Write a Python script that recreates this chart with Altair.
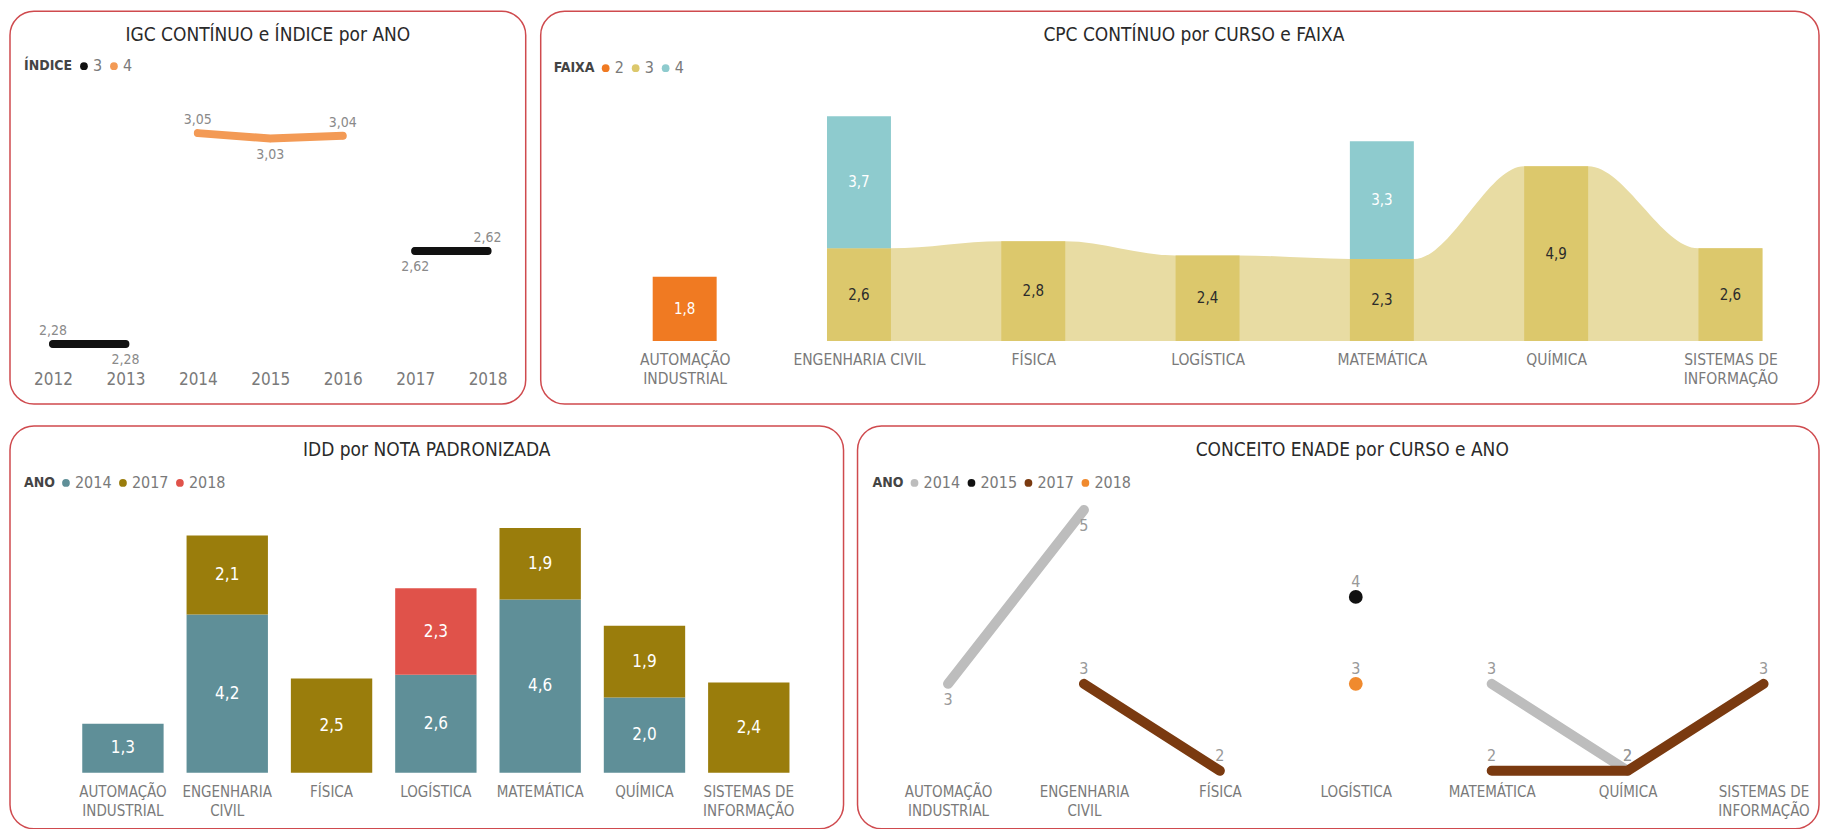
import json
import altair as alt
import pandas as pd

FONT = "Liberation Sans Narrow, DejaVu Sans Condensed, Roboto, sans-serif"

# ---------------- data ----------------
courses = ["AUTOMAÇÃO INDUSTRIAL", "ENGENHARIA CIVIL", "FÍSICA", "LOGÍSTICA",
           "MATEMÁTICA", "QUÍMICA", "SISTEMAS DE INFORMAÇÃO"]

# Panel 1: IGC contínuo e índice por ano
igc_years = ["2012", "2013", "2014", "2015", "2016", "2017", "2018"]
igc_year = ["2012", "2013", "2017", "2018", "2014", "2015", "2016"]
igc_indice = ["3", "3", "3", "3", "4", "4", "4"]
igc_value = [2.28, 2.28, 2.62, 2.62, 3.05, 3.03, 3.04]

# Panel 2: CPC contínuo por curso e faixa
cpc_course = ["AUTOMAÇÃO INDUSTRIAL", "ENGENHARIA CIVIL", "ENGENHARIA CIVIL", "FÍSICA",
              "LOGÍSTICA", "MATEMÁTICA", "MATEMÁTICA", "QUÍMICA", "SISTEMAS DE INFORMAÇÃO"]
cpc_faixa = ["2", "3", "4", "3", "3", "3", "4", "3", "3"]
cpc_value = [1.8, 2.6, 3.7, 2.8, 2.4, 2.3, 3.3, 4.9, 2.6]

# Panel 3: IDD por nota padronizada
idd_course = ["AUTOMAÇÃO INDUSTRIAL", "ENGENHARIA CIVIL", "ENGENHARIA CIVIL", "FÍSICA",
              "LOGÍSTICA", "LOGÍSTICA", "MATEMÁTICA", "MATEMÁTICA", "QUÍMICA", "QUÍMICA",
              "SISTEMAS DE INFORMAÇÃO"]
idd_ano = ["2014", "2014", "2017", "2017", "2014", "2018", "2014", "2017", "2014", "2017", "2017"]
idd_value = [1.3, 4.2, 2.1, 2.5, 2.6, 2.3, 4.6, 1.9, 2.0, 1.9, 2.4]

# Panel 4: conceito ENADE por curso e ano
enade_course = ["AUTOMAÇÃO INDUSTRIAL", "ENGENHARIA CIVIL", "MATEMÁTICA", "QUÍMICA",
                "LOGÍSTICA",
                "ENGENHARIA CIVIL", "FÍSICA", "MATEMÁTICA", "QUÍMICA", "SISTEMAS DE INFORMAÇÃO",
                "LOGÍSTICA"]
enade_ano = ["2014", "2014", "2014", "2014", "2015", "2017", "2017", "2017", "2017", "2017", "2018"]
enade_value = [3, 5, 3, 2, 4, 3, 2, 2, 2, 3, 3]


def fmt(v, d):
    return f"{v:.{d}f}".replace(".", ",")


def segments(df, key_col, pos_col):
    """Split each series into runs of consecutive positions (gaps break the line)."""
    df = df.sort_values([key_col, pos_col]).copy()
    seg, n = [], 0
    prev_k, prev_p = None, None
    for k, p in zip(df[key_col], df[pos_col]):
        if k != prev_k or p - prev_p > 1:
            n += 1
        seg.append(f"{k}-{n}")
        prev_k, prev_p = k, p
    df["seg"] = seg
    df["segsize"] = df.groupby("seg")["seg"].transform("size")
    return df


def stack(df, course_col, order_col, val_col):
    df = df.sort_values([course_col, order_col]).copy()
    df["y1"] = df.groupby(course_col)[val_col].cumsum()
    df["y0"] = df["y1"] - df[val_col]
    df["mid"] = (df["y0"] + df["y1"]) / 2
    return df


# ---------------- styles ----------------
BORDER = "#cf4a4e"
TITLE_COLOR = "#2a2a2a"
LABEL_GRAY = "#7a7a7a"


def panel_title(text, dx=0):
    return alt.TitleParams(text, offset=-34, fontSize=19, font=FONT, color=TITLE_COLOR,
                           fontWeight="normal", anchor="middle", dx=dx)


def legend(title, x, y):
    return alt.Legend(title=title, orient="none", legendX=x, legendY=y, direction="horizontal",
                      titleOrient="left", titleFontSize=14, titleColor="#444",
                      titleFontWeight="bold", titleFont=FONT, titlePadding=3,
                      labelFontSize=16, labelColor=LABEL_GRAY, labelFont=FONT,
                      symbolType="circle", symbolSize=60, symbolStrokeWidth=0,
                      labelOffset=1, columnPadding=3, padding=0)


def cat_axis(offset):
    return alt.Axis(title=None, domain=False, ticks=False, grid=False, labelAngle=0,
                    labelFontSize=15, labelColor=LABEL_GRAY, labelFont=FONT,
                    labelPadding=0, offset=offset, labelLineHeight=19,
                    labelOverlap=False, labelFlush=False,
                    labelExpr="datum.label == 'SISTEMAS DE INFORMAÇÃO' ? ['SISTEMAS DE', 'INFORMAÇÃO'] : split(datum.label, ' ')")


def series_lines(base, key_col, dom, rng, width, extra_filter=None):
    layers = []
    for k, c in zip(dom, rng):
        cond = f"datum.{key_col} == '{k}'"
        if extra_filter:
            cond = f"({cond}) && ({extra_filter})"
        layers.append(base.transform_filter(cond).mark_line(
            strokeWidth=width, strokeCap="round", strokeJoin="round", color=c
        ).encode(detail="seg:N"))
    return layers


# ---------------- panel 1 ----------------
p1 = pd.DataFrame({"ano": igc_year, "indice": igc_indice, "igc": igc_value})
p1["yr"] = p1["ano"].astype(int)
p1 = segments(p1, "indice", "yr")
p1["label"] = [fmt(v, 2) for v in p1["igc"]]

ind_dom = ["3", "4"]
ind_rng = ["#111111", "#f39a55"]
x1 = alt.X("ano:N", sort=igc_years,
           scale=alt.Scale(type="point", domain=igc_years, padding=0.56, align=0.53),
           axis=alt.Axis(title=None, domain=False, ticks=False, grid=False, labelAngle=0,
                         labelFontSize=17, labelColor=LABEL_GRAY, labelFont=FONT,
                         labelPadding=0, offset=-33))
y1 = alt.Y("igc:Q", scale=alt.Scale(domain=[2.061, 3.495], zero=False, nice=False), axis=None)
base1 = alt.Chart(p1).encode(x=x1, y=y1)
lines1 = series_lines(base1, "indice", ind_dom, ind_rng, 8)
pts1 = base1.mark_circle(size=50, opacity=1).encode(
    color=alt.Color("indice:N", scale=alt.Scale(domain=ind_dom, range=ind_rng),
                    legend=legend("ÍNDICE", 14, 47)))
lab1_up = base1.transform_filter("toNumber(datum.ano) % 2 == 0").mark_text(
    dy=-13, fontSize=14, color="#8a8a8a", font=FONT).encode(text="label:N")
lab1_dn = base1.transform_filter("toNumber(datum.ano) % 2 == 1").mark_text(
    dy=16, fontSize=14, color="#8a8a8a", font=FONT).encode(text="label:N")
chart1 = alt.layer(pts1, *lines1, lab1_up, lab1_dn).properties(
    width=516, height=393, title=panel_title("IGC CONTÍNUO e ÍNDICE por ANO"))

# ---------------- panel 2 ----------------
HW = 0.1835  # half bar width in category units
p2 = pd.DataFrame({"curso": cpc_course, "faixa": cpc_faixa, "cpc": cpc_value})
p2["idx"] = p2["curso"].map({c: i for i, c in enumerate(courses)})
p2 = stack(p2, "curso", "faixa", "cpc")
p2["label"] = [fmt(v, 1) for v in p2["cpc"]]

rib = p2[p2["faixa"] == "3"].sort_values("idx")
rib_rows = []
for _, r in rib.iterrows():
    rib_rows.append({"px": r["idx"] - HW, "cpc": r["cpc"]})
    rib_rows.append({"px": r["idx"] + HW, "cpc": r["cpc"]})
rib_df = pd.DataFrame(rib_rows)

cpc_lines = [["AUTOMAÇÃO", "INDUSTRIAL"], ["ENGENHARIA CIVIL"], ["FÍSICA"], ["LOGÍSTICA"],
             ["MATEMÁTICA"], ["QUÍMICA"], ["SISTEMAS DE", "INFORMAÇÃO"]]
xs2 = alt.Scale(domain=[-0.826, 6.508], nice=False, zero=False)
x2_axis = alt.Axis(title=None, domain=False, ticks=False, grid=False, labelAngle=0,
                   values=list(range(7)), labelFontSize=15.5, labelColor=LABEL_GRAY,
                   labelFont=FONT, labelPadding=0, offset=-52, labelLineHeight=19,
                   labelOverlap=False, labelFlush=False,
                   labelExpr=json.dumps(cpc_lines, ensure_ascii=False) + "[datum.value]")
ys2 = alt.Scale(domain=[-1.765, 9.244], nice=False, zero=False)

faixa_dom = ["2", "3", "4"]
faixa_rng = ["#f07a22", "#dcc86c", "#8ecbce"]

ribbon = alt.Chart(rib_df).mark_area(interpolate="monotone", color="#e8dca3").encode(
    x=alt.X("px:Q", scale=xs2, axis=x2_axis),
    y=alt.Y("cpc:Q", scale=ys2, axis=None),
    y2=alt.datum(0))
bars2 = alt.Chart(p2).transform_calculate(
    xa=f"datum.idx - {HW}", xb=f"datum.idx + {HW}").mark_rect().encode(
    x=alt.X("xa:Q", scale=xs2, axis=x2_axis), x2="xb:Q",
    y=alt.Y("y0:Q", scale=ys2, axis=None), y2="y1:Q",
    color=alt.Color("faixa:N", scale=alt.Scale(domain=faixa_dom, range=faixa_rng),
                    legend=legend("FAIXA", 13, 49)))
text2 = alt.Chart(p2).mark_text(fontSize=15, font=FONT).encode(
    x=alt.X("idx:Q", scale=xs2, axis=x2_axis),
    y=alt.Y("mid:Q", scale=ys2, axis=None),
    text="label:N",
    color=alt.condition("datum.faixa == '3'", alt.value("#2b2b2b"), alt.value("#ffffff")))
chart2 = alt.layer(ribbon, bars2, text2).properties(
    width=1279, height=393, title=panel_title("CPC CONTÍNUO por CURSO e FAIXA", dx=14))

# ---------------- panel 3 ----------------
p3 = pd.DataFrame({"curso": idd_course, "ano_idd": idd_ano, "idd": idd_value})
p3 = stack(p3, "curso", "ano_idd", "idd")
p3["label"] = [fmt(v, 1) for v in p3["idd"]]
ano3_dom = ["2014", "2017", "2018"]
ano3_rng = ["#5f8f98", "#9a7d0c", "#e0524a"]
x3 = alt.X("curso:N", sort=courses,
           scale=alt.Scale(domain=courses, paddingInner=0.22, paddingOuter=0.6055, align=0.572),
           axis=cat_axis(-44))
ys3 = alt.Scale(domain=[-1.485, 9.204], nice=False, zero=False)
bars3 = alt.Chart(p3).mark_bar().encode(
    x=x3, y=alt.Y("y0:Q", scale=ys3, axis=None), y2="y1:Q",
    color=alt.Color("ano_idd:N", scale=alt.Scale(domain=ano3_dom, range=ano3_rng),
                    legend=legend("ANO", 14, 49)))
text3 = alt.Chart(p3).mark_text(fontSize=17, font=FONT, color="white").encode(
    x=x3, y=alt.Y("mid:Q", scale=ys3, axis=None), text="label:N")
chart3 = alt.layer(bars3, text3).properties(
    width=834, height=403, title=panel_title("IDD por NOTA PADRONIZADA"))

# ---------------- panel 4 ----------------
p4 = pd.DataFrame({"curso": enade_course, "ano_en": enade_ano, "conceito": enade_value})
p4["idx"] = p4["curso"].map({c: i for i, c in enumerate(courses)})
p4 = segments(p4, "ano_en", "idx")
ano4_dom = ["2014", "2015", "2017", "2018"]
ano4_rng = ["#bdbdbd", "#111111", "#7a3a10", "#f08a2e"]
x4 = alt.X("curso:N", sort=courses,
           scale=alt.Scale(type="point", domain=courses, padding=0.537, align=0.62),
           axis=cat_axis(-44))
y4 = alt.Y("conceito:Q", scale=alt.Scale(domain=[1.333, 5.966], nice=False, zero=False),
           axis=None)
base4 = alt.Chart(p4).encode(x=x4, y=y4)
lines4 = series_lines(base4, "ano_en", ano4_dom, ano4_rng, 10, "datum.segsize > 1")
pts4 = base4.transform_filter("datum.segsize == 1").mark_circle(size=190, opacity=1).encode(
    color=alt.Color("ano_en:N", scale=alt.Scale(domain=ano4_dom, range=ano4_rng),
                    legend=legend("ANO", 15, 49)))
below = "datum.ano_en == '2014' && (datum.curso == 'AUTOMAÇÃO INDUSTRIAL' || datum.curso == 'ENGENHARIA CIVIL')"
lab4_up = base4.transform_filter(f"!({below})").mark_text(
    dy=-15, fontSize=16, color="#999999", font=FONT).encode(text="conceito:Q")
lab4_dn = base4.transform_filter(below).mark_text(
    dy=16, fontSize=16, color="#999999", font=FONT).encode(text="conceito:Q")
chart4 = alt.layer(pts4, *lines4, lab4_up, lab4_dn).properties(
    width=962, height=403, title=panel_title("CONCEITO ENADE por CURSO e ANO", dx=14))

# ---------------- layout ----------------
top = alt.hconcat(chart1, chart2, spacing=15, bounds="flush").resolve_scale(
    x="independent", y="independent", color="independent")
bottom = alt.hconcat(chart3, chart4, spacing=14, bounds="flush").resolve_scale(
    x="independent", y="independent", color="independent")
chart = alt.vconcat(top, bottom, spacing=20).resolve_scale(
    x="independent", y="independent", color="independent"
).properties(
    padding={"left": 1, "top": 2, "right": 0, "bottom": 0},
    background="white",
).configure_view(
    stroke=BORDER, strokeWidth=1.5, cornerRadius=24
).configure_text(font=FONT)

chart.save("out.html", embed_options={"renderer": "svg", "actions": False})
